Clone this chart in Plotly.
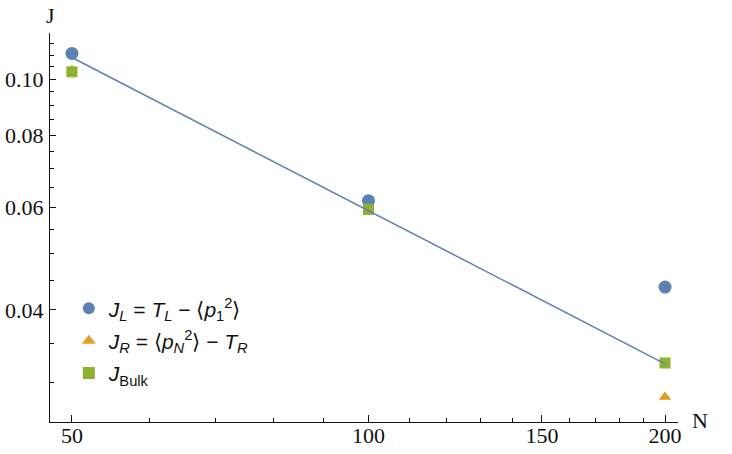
import plotly.graph_objects as go

# Data
N = [50, 100, 200]
J_L = [0.1107, 0.0617, 0.0438]
J_R = [0.1035, 0.0597, 0.0283]
J_Bulk = [0.1029, 0.0596, 0.0324]
fit_N = [50, 200]
fit_J = [0.1089, 0.0323]

x_ticks = [50, 100, 150, 200]
x_tick_text = ["50", "100", "150", "200"]
x_minor = [60, 70, 80, 90, 110, 120, 130, 140, 160, 170, 180, 190]
y_ticks = [0.04, 0.06, 0.08, 0.10]
y_tick_text = ["0.04", "0.06", "0.08", "0.10"]
y_minor = [0.03, 0.035, 0.045, 0.05, 0.055, 0.065, 0.07, 0.075,
           0.085, 0.09, 0.095, 0.105, 0.11, 0.115]

BLUE = "#5E81B5"
ORANGE = "#E19C24"
GREEN = "#8FB032"

fig = go.Figure()
fig.add_trace(go.Scatter(
    x=N, y=J_L, mode="markers", legendgroup="a",
    marker=dict(symbol="circle", size=13, color=BLUE),
    name="<i>J</i><sub><i>L</i></sub> = <i>T</i><sub><i>L</i></sub> − ⟨<i>p</i><sub>1</sub><sup>2</sup>⟩"))
fig.add_trace(go.Scatter(
    x=N, y=J_R, mode="markers", legendgroup="b",
    marker=dict(symbol="triangle-up", size=11, color=ORANGE),
    name="<i>J</i><sub><i>R</i></sub> = ⟨<i>p</i><sub><i>N</i></sub><sup>2</sup>⟩ − <i>T</i><sub><i>R</i></sub>"))
fig.add_trace(go.Scatter(
    x=N, y=J_Bulk, mode="markers", legendgroup="c",
    marker=dict(symbol="square", size=11, color=GREEN),
    name="<i>J</i><sub>Bulk</sub>"))
fig.add_trace(go.Scatter(
    x=fit_N, y=fit_J, mode="lines",
    line=dict(color=BLUE, width=1.5),
    showlegend=False))

tick_font = dict(family="Liberation Serif", size=22, color="#111")

fig.update_layout(
    width=732, height=454,
    margin=dict(l=50, r=54, t=33, b=32, autoexpand=False),
    paper_bgcolor="white", plot_bgcolor="white",
    showlegend=True,
    legend=dict(x=0.030, y=0.344, xanchor="left", yanchor="top",
                bgcolor="rgba(0,0,0,0)", borderwidth=0,
                tracegroupgap=2,
                font=dict(family="Liberation Sans", size=21, color="#111"),
                itemsizing="constant"),
    xaxis=dict(type="log", range=[1.6767, 2.3142], automargin=False,
               showgrid=False, zeroline=False,
               showline=True, linecolor="#111", linewidth=1, mirror=False,
               ticks="inside", ticklen=7, tickwidth=1, tickcolor="#111",
               tickmode="array", tickvals=x_ticks, ticktext=x_tick_text,
               tickfont=tick_font, ticklabelstandoff=-6,
               minor=dict(ticks="inside", ticklen=4, tickwidth=1, tickcolor="#111",
                          tickmode="array", tickvals=x_minor, showgrid=False)),
    yaxis=dict(type="log", range=[-1.5911, -0.9207], automargin=False,
               showgrid=False, zeroline=False,
               showline=True, linecolor="#111", linewidth=1, mirror=False,
               ticks="inside", ticklen=6, tickwidth=1, tickcolor="#111",
               tickmode="array", tickvals=y_ticks, ticktext=y_tick_text,
               tickfont=tick_font, ticklabelstandoff=1,
               minor=dict(ticks="inside", ticklen=4, tickwidth=1, tickcolor="#111",
                          tickmode="array", tickvals=y_minor, showgrid=False)),
    annotations=[
        dict(text="J", xref="paper", yref="paper", x=0, y=1.046,
             xanchor="center", yanchor="middle", showarrow=False,
             font=tick_font),
        dict(text="N", xref="paper", yref="paper", x=1.035, y=0.005,
             xanchor="center", yanchor="middle", showarrow=False,
             font=tick_font),
    ],
)

fig.write_html("out.html",
               config={"displayModeBar": False},
               post_script="document.body.style.margin='0';")
